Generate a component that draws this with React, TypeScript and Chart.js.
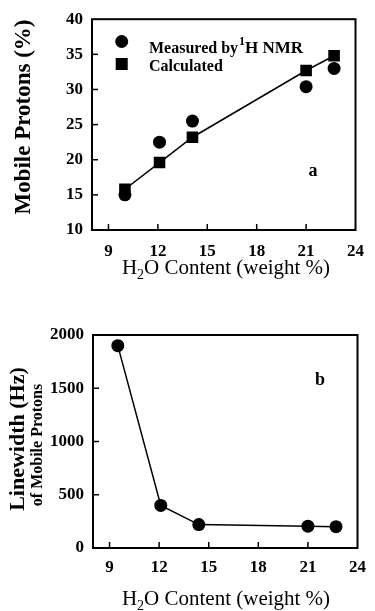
import React, { useEffect, useRef } from "react";
import { Chart, registerables } from "chart.js";

Chart.register(...registerables);

// ---- data ----
const xTicks = [9, 12, 15, 18, 21, 24];
const yTicksA = [10, 15, 20, 25, 30, 35, 40];
const yTicksB = [0, 500, 1000, 1500, 2000];

const waterA = [10.0, 12.1, 14.1, 21.0, 22.7];
const measuredA = [15.0, 22.5, 25.5, 30.4, 33.0];
const calculatedA = [15.8, 19.6, 23.2, 32.7, 34.8];

const waterB = [9.5, 12.1, 14.4, 21.0, 22.7];
const linewidthB = [1900, 400, 220, 205, 200];

const legendLabels = ["Measured by ", "1", "H NMR", "Calculated"];
const xTitleParts = ["H", "2", "O Content (weight %)"];
const yTitleA = "Mobile Protons (%)";
const yTitleB = "Linewidth (Hz)";
const yTitleB2 = "of Mobile Protons";

const SERIF = "'Liberation Serif', 'Times New Roman', serif";

function framePlugin(tickLen: number) {
  return {
    id: "frame",
    afterDraw(chart: any) {
      const ctx = chart.ctx;
      const { left, right, top, bottom } = chart.chartArea;
      ctx.save();
      ctx.strokeStyle = "#000";
      ctx.lineWidth = 2;
      ctx.strokeRect(left, top, right - left, bottom - top);
      ctx.lineWidth = 1.5;
      const xs = chart.scales.x;
      const ys = chart.scales.y;
      xs.ticks.forEach((t: any) => {
        const px = xs.getPixelForValue(t.value);
        if (px <= left + 1 || px >= right - 1) return;
        ctx.beginPath();
        ctx.moveTo(px, bottom);
        ctx.lineTo(px, bottom - tickLen);
        ctx.stroke();
      });
      ys.ticks.forEach((t: any) => {
        const py = ys.getPixelForValue(t.value);
        if (py <= top + 1 || py >= bottom - 1) return;
        ctx.beginPath();
        ctx.moveTo(left, py);
        ctx.lineTo(left + tickLen, py);
        ctx.stroke();
      });
      ctx.restore();
    },
  };
}

function drawXTitle(ctx: CanvasRenderingContext2D, cx: number, cy: number, size: number) {
  ctx.save();
  ctx.fillStyle = "#000";
  ctx.textBaseline = "alphabetic";
  ctx.textAlign = "left";
  const big = `${size}px ${SERIF}`;
  const small = `${Math.round(size * 0.65)}px ${SERIF}`;
  ctx.font = big;
  const w1 = ctx.measureText(xTitleParts[0]).width;
  const w3 = ctx.measureText(xTitleParts[2]).width;
  ctx.font = small;
  const w2 = ctx.measureText(xTitleParts[1]).width;
  const total = w1 + w2 + w3;
  let x = cx - total / 2;
  const base = cy + size * 0.33;
  ctx.font = big;
  ctx.fillText(xTitleParts[0], x, base);
  x += w1;
  ctx.font = small;
  ctx.fillText(xTitleParts[1], x, base + size * 0.25);
  x += w2;
  ctx.font = big;
  ctx.fillText(xTitleParts[2], x, base);
  ctx.restore();
}

function drawRotated(ctx: CanvasRenderingContext2D, text: string, cx: number, cy: number, font: string) {
  ctx.save();
  ctx.translate(cx, cy);
  ctx.rotate(-Math.PI / 2);
  ctx.font = font;
  ctx.fillStyle = "#000";
  ctx.textAlign = "center";
  ctx.textBaseline = "middle";
  ctx.fillText(text, 0, 0);
  ctx.restore();
}

const annotA = {
  id: "annotA",
  afterDraw(chart: any) {
    const ctx = chart.ctx;
    ctx.save();
    ctx.fillStyle = "#000";
    ctx.beginPath();
    ctx.arc(121.7, 41.5, 6.5, 0, Math.PI * 2);
    ctx.fill();
    ctx.fillRect(121.7 - 6, 64 - 6, 12, 12);
    ctx.textAlign = "left";
    ctx.textBaseline = "alphabetic";
    ctx.font = `bold 16px ${SERIF}`;
    ctx.fillText(legendLabels[0], 149, 53);
    ctx.font = `bold 12px ${SERIF}`;
    ctx.fillText(legendLabels[1], 239, 45);
    ctx.font = `bold 17px ${SERIF}`;
    ctx.fillText(legendLabels[2], 245, 53);
    ctx.font = `bold 16px ${SERIF}`;
    ctx.fillText(legendLabels[3], 149, 70.5);
    ctx.font = `bold 18px ${SERIF}`;
    ctx.textAlign = "center";
    ctx.fillText("a", 313, 176);
    ctx.restore();
    drawRotated(ctx, yTitleA, 24, 117, `bold 23px ${SERIF}`);
    drawXTitle(ctx, 226, 267, 21);
  },
};

const annotB = {
  id: "annotB",
  afterDraw(chart: any) {
    const ctx = chart.ctx;
    ctx.save();
    ctx.fillStyle = "#000";
    ctx.font = `bold 18px ${SERIF}`;
    ctx.textAlign = "center";
    ctx.textBaseline = "alphabetic";
    ctx.fillText("b", 320, 85);
    ctx.restore();
    drawRotated(ctx, yTitleB, 18, 139, `bold 22px ${SERIF}`);
    drawRotated(ctx, yTitleB2, 38, 145, `bold 16px ${SERIF}`);
    drawXTitle(ctx, 226, 298, 21);
  },
};

function scales(yTicks: number[], yMin: number, yMax: number, yWidth: number, xHeight: number, xPad: number) {
  const tickFont = { family: SERIF, size: 17, weight: "bold" as const };
  return {
    x: {
      type: "linear" as const,
      min: 8,
      max: 24,
      afterBuildTicks: (s: any) => {
        s.ticks = xTicks.map((v) => ({ value: v }));
      },
      afterFit: (s: any) => {
        s.height = xHeight;
      },
      grid: { display: true, drawOnChartArea: false, drawTicks: false },
      border: { display: false },
      ticks: {
        color: "#000",
        font: tickFont,
        padding: xPad,
        maxRotation: 0,
        autoSkip: false,
        callback: (v: any) => String(v),
      },
    },
    y: {
      type: "linear" as const,
      min: yMin,
      max: yMax,
      afterBuildTicks: (s: any) => {
        s.ticks = yTicks.map((v) => ({ value: v }));
      },
      afterFit: (s: any) => {
        s.width = yWidth;
      },
      grid: { display: true, drawOnChartArea: false, drawTicks: false },
      border: { display: false },
      ticks: { color: "#000", font: tickFont, padding: 9, autoSkip: false, callback: (v: any) => String(v) },
    },
  };
}

export default function App() {
  const refA = useRef<HTMLCanvasElement | null>(null);
  const refB = useRef<HTMLCanvasElement | null>(null);

  useEffect(() => {
    const chartA = new Chart(refA.current as HTMLCanvasElement, {
      type: "scatter",
      data: {
        datasets: [
          {
            label: "Calculated",
            data: waterA.map((x, i) => ({ x, y: calculatedA[i] })),
            showLine: true,
            borderColor: "#000",
            borderWidth: 1.5,
            backgroundColor: "#000",
            pointStyle: "rect",
            pointRadius: 8.2,
            pointBorderWidth: 0,
            pointBackgroundColor: "#000",
          },
          {
            label: "Measured by 1H NMR",
            data: waterA.map((x, i) => ({ x, y: measuredA[i] })),
            showLine: false,
            borderColor: "#000",
            backgroundColor: "#000",
            pointStyle: "circle",
            pointRadius: 6.5,
            pointBorderWidth: 0,
            pointBackgroundColor: "#000",
          },
        ],
      },
      options: {
        animation: false,
        responsive: false,
        maintainAspectRatio: false,
        layout: { padding: { top: 17, right: 12, left: 0, bottom: 0 } },
        plugins: { legend: { display: false }, tooltip: { enabled: false } },
        scales: scales(yTicksA, 10, 40, 92, 70, 11),
      },
      plugins: [framePlugin(6), annotA],
    });

    const chartB = new Chart(refB.current as HTMLCanvasElement, {
      type: "scatter",
      data: {
        datasets: [
          {
            label: "Linewidth",
            data: waterB.map((x, i) => ({ x, y: linewidthB[i] })),
            showLine: true,
            borderColor: "#000",
            borderWidth: 1.5,
            backgroundColor: "#000",
            pointStyle: "circle",
            pointRadius: 6.5,
            pointBorderWidth: 0,
            pointBackgroundColor: "#000",
          },
        ],
      },
      options: {
        animation: false,
        responsive: false,
        maintainAspectRatio: false,
        layout: { padding: { top: 35, right: 11, left: 0, bottom: 0 } },
        plugins: { legend: { display: false }, tooltip: { enabled: false } },
        scales: scales(yTicksB, 0, 2000, 93, 63, 9),
      },
      plugins: [framePlugin(6), annotB],
    });

    return () => {
      chartA.destroy();
      chartB.destroy();
    };
  }, []);

  return (
    <div style={{ position: "absolute", left: 0, top: 0, width: 375, height: 611, background: "#fff" }}>
      <canvas ref={refA} width={375} height={300} style={{ position: "absolute", left: 0, top: 0, width: 375, height: 300 }} />
      <canvas ref={refB} width={375} height={311} style={{ position: "absolute", left: 0, top: 300, width: 375, height: 311 }} />
    </div>
  );
}
